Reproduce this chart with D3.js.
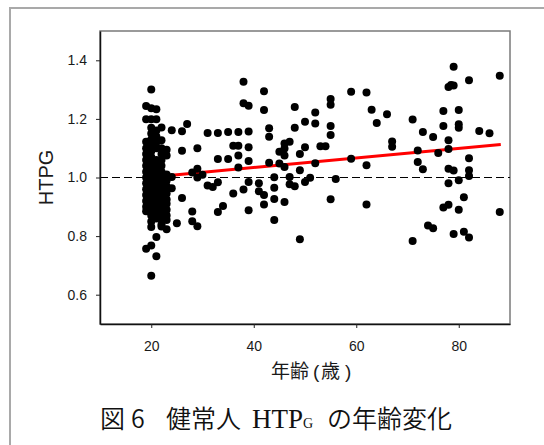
<!DOCTYPE html>
<html>
<head>
<meta charset="utf-8">
<script src="https://cdn.jsdelivr.net/npm/d3@7"></script>
<style>
  body { margin: 0; background: #fff; }
  svg { display: block; }
</style>
</head>
<body>
<div id="chart"></div>
<script>
// ages (x) and HTPG values (y)
const ages = [
  // the 19-23 year cluster
  19,19,19,19,19,19,19,19,19,19,19,19,19,19,19,19,
  20,20,20,20,20,20,20,20,20,20,20,20,20,20,20,20,20,20,20,20,20,20,20,
  21,21,21,21,21,21,21,21,21,21,21,21,21,21,21,21,21,21,21,
  22,22,22,22,22,22,22,22,22,22,22,22,22,22,22,22,22,
  23,23,23,23,23,23,23,23,23,23,23,23,
  // the rest
  24,26,27,26,24,24,26,25,29,29,29,28,30,28,28,29,
  31,33,35,37,39,31,32,33,33,35,33,34,36,37,37,37,36,
  38,38,39,39,39,39,38,39,41,41,42,42,42,42,43,43,43,
  44,44,44,44,45,45,46,46,46,46,46,47,47,47,48,48,48,
  49,49,49,50,50,50,51,52,52,52,53,54,55,55,55,55,55,56,
  59,59,62,62,62,63,64,66,67,67,
  71,71,72,72,73,73,74,75,75,76,77,77,77,
  78,78,78,78,78,78,79,79,78.5,79,79,
  80,80,80,80,80,81,81,82,82,82,82,82,84,86,88,88
];
const htpg = [
  1.244,1.199,1.122,1.10,1.08,1.06,1.04,1.02,1.00,0.98,0.96,0.94,0.92,0.90,0.885,0.757,
  1.30,1.236,1.199,1.17,1.15,1.13,1.11,1.09,1.07,1.05,1.03,1.01,0.99,0.97,0.95,0.93,0.91,0.89,0.87,0.85,0.831,0.768,0.665,
  1.233,1.199,1.16,1.14,1.12,1.10,1.06,1.04,1.02,1.00,0.98,0.96,0.94,0.92,0.90,0.88,0.86,0.797,0.731,
  1.171,1.127,1.10,1.08,1.06,1.04,1.02,1.00,0.98,0.96,0.94,0.92,0.90,0.88,0.86,0.84,0.833,
  1.095,1.075,1.01,0.99,0.97,0.945,0.925,0.91,0.89,0.87,0.855,0.823,
  1.161,1.158,1.183,1.091,1.002,0.963,0.930,0.844,1.10,1.03,1.00,1.017,1.009,0.884,0.851,0.834,
  1.152,1.152,1.155,1.155,1.157,0.973,0.968,0.984,1.063,1.063,0.882,0.903,1.108,1.108,1.075,1.034,0.945,
  1.327,1.253,1.245,1.103,1.056,0.985,0.959,0.888,0.98,0.953,0.94,0.908,1.294,1.23,1.168,1.139,1.05,
  1.001,0.965,0.927,0.855,1.088,1.048,1.116,1.099,1.075,1.036,0.916,1.122,1.002,0.977,1.241,1.17,0.97,
  1.08,1.025,0.789,1.19,1.103,0.985,0.999,1.222,1.184,1.049,1.107,1.107,1.268,1.248,1.176,1.145,0.926,0.995,
  1.293,1.064,1.29,1.042,0.908,1.231,1.186,1.216,1.123,1.105,
  1.198,0.783,1.092,1.053,1.155,1.028,0.836,0.827,1.138,1.084,1.227,1.176,0.898,
  1.309,1.127,1.097,1.03,0.98,0.907,1.378,1.314,1.316,1.024,0.807,
  1.23,1.182,1.17,0.991,0.89,0.933,0.815,1.332,1.066,1.025,1.005,0.795,1.159,1.151,1.347,0.882
];

// regression line ends
const fitAges = [24, 88.2];
const fitValues = [1.008, 1.113];

const xTicks = [20, 40, 60, 80];
const yTicks = [0.6, 0.8, 1.0, 1.2, 1.4];

const width = 544, height = 445;
const margin = { top: 31, right: 34, bottom: 121, left: 100 };

const svg = d3.select("#chart").append("svg")
  .attr("width", width)
  .attr("height", height);

// outer grey frame, runs off the right and bottom
svg.append("rect")
  .attr("x", 10).attr("y", 8)
  .attr("width", 600).attr("height", 500)
  .attr("fill", "none")
  .attr("stroke", "#a9a9a9")
  .attr("stroke-width", 2);

const x = d3.scaleLinear().domain([10, 90]).range([margin.left, width - margin.right]);
const y = d3.scaleLinear().domain([0.5, 1.5]).range([height - margin.bottom, margin.top]);

// plot box (top/right in grey)
svg.append("rect")
  .attr("x", x(10)).attr("y", y(1.5))
  .attr("width", x(90) - x(10)).attr("height", y(0.5) - y(1.5))
  .attr("fill", "none")
  .attr("stroke", "#7a7a7a")
  .attr("stroke-width", 1.5);

// reference line at 1.0
svg.append("line")
  .attr("x1", x(10)).attr("x2", x(90))
  .attr("y1", y(1.0)).attr("y2", y(1.0))
  .attr("stroke", "#000")
  .attr("stroke-width", 1)
  .attr("stroke-dasharray", "8,4");

svg.append("path")
  .datum(fitAges.map((a, i) => [a, fitValues[i]]))
  .attr("d", d3.line().x(d => x(d[0])).y(d => y(d[1])))
  .attr("stroke", "#ff0000")
  .attr("stroke-width", 3)
  .attr("fill", "none");

svg.append("g")
  .selectAll("circle")
  .data(ages.map((a, i) => [a, htpg[i]]))
  .enter()
  .append("circle")
  .attr("cx", d => x(d[0]))
  .attr("cy", d => y(d[1]))
  .attr("r", 4)
  .attr("fill", "#000");

const xAxis = svg.append("g")
  .attr("transform", `translate(0,${y(0.5)})`)
  .call(d3.axisBottom(x).tickValues(xTicks).tickSize(4).tickPadding(13).tickSizeOuter(0));

const yAxis = svg.append("g")
  .attr("transform", `translate(${x(10)},0)`)
  .call(d3.axisLeft(y).tickValues(yTicks).tickFormat(d3.format(".1f")).tickSize(4).tickPadding(9).tickSizeOuter(0));

[xAxis, yAxis].forEach(g => {
  g.select(".domain").attr("stroke", "#111").attr("stroke-width", 1.5);
  g.selectAll(".tick line").attr("stroke", "#222");
  g.selectAll("text")
    .attr("fill", "#1a1a1a")
    .style("font-family", "'Liberation Sans', Arial, sans-serif")
    .style("font-size", "14px");
});

svg.append("text")
  .attr("transform", `translate(52.5,${(y(0.5) + y(1.5)) / 2}) rotate(-90)`)
  .attr("text-anchor", "middle")
  .style("font-family", "'Liberation Sans', Arial, sans-serif")
  .style("font-size", "20px")
  .attr("fill", "#1a1a1a")
  .text("HTPG");

// x axis title, parentheses set narrow like the original
const xt = svg.append("text")
  .attr("y", 378)
  .style("font-family", "'Noto Sans CJK JP', sans-serif")
  .style("font-size", "19px")
  .attr("fill", "#1a1a1a");
xt.append("tspan").attr("x", 271).text("年齢");
xt.append("tspan").attr("x", 313).style("font-family", "'Liberation Sans', sans-serif").text("(");
xt.append("tspan").attr("x", 321).text("歳");
xt.append("tspan").attr("x", 345).style("font-family", "'Liberation Sans', sans-serif").text(")");

// caption
const cap = svg.append("text")
  .attr("y", 428)
  .style("font-family", "'Noto Sans CJK JP', sans-serif")
  .style("font-size", "25px")
  .style("font-weight", 350)
  .attr("fill", "#111");
cap.append("tspan").attr("x", 100).text("図");
cap.append("tspan").attr("x", 131).text("6");
cap.append("tspan").attr("x", 166).text("健常人");
cap.append("tspan").attr("x", 252)
  .style("font-family", "'Liberation Serif', 'DejaVu Serif', serif")
  .style("font-size", "27px").text("HTP");
cap.append("tspan")
  .style("font-family", "'Liberation Serif', 'DejaVu Serif', serif")
  .style("font-size", "14px").text("G");
cap.append("tspan").attr("x", 327).text("の年齢変化");
</script>
</body>
</html>
